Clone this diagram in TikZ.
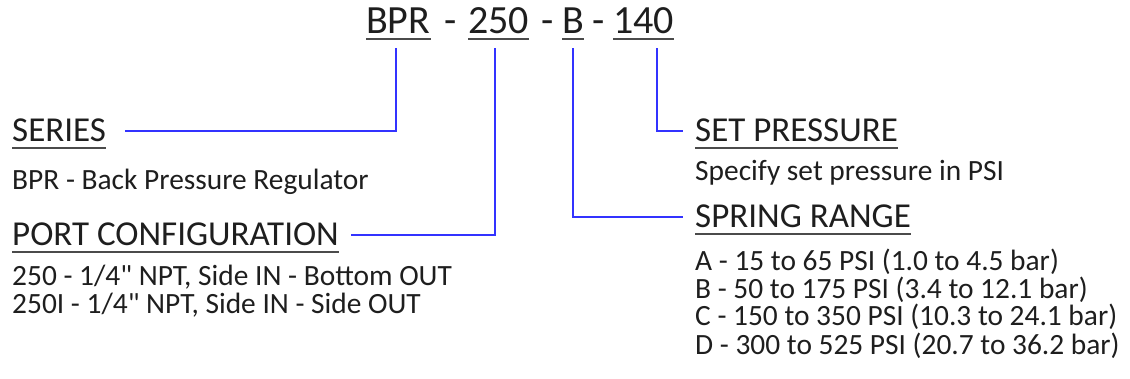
\documentclass[tikz,border=0pt]{standalone}
\usepackage{fontspec}
\setmainfont{Carlito}[Ligatures=TeXOff]
\usetikzlibrary{positioning}
\definecolor{linkblue}{RGB}{51,51,255}
\definecolor{inkgray}{RGB}{30,30,30}
\tikzset{
  txt/.style={anchor=base west,inner sep=0pt,text=inkgray},
  code/.style={txt,font=\fontsize{40}{40}\selectfont},
  head/.style={txt,font=\fontsize{35}{35}\selectfont},
  body/.style={txt,font=\fontsize{29.4}{29.4}\selectfont},
  conn/.style={draw=linkblue,line width=2pt},
  uline/.style={draw=inkgray!80,line width=2pt}
}
\begin{document}
\begin{tikzpicture}[x=1pt,y=-1pt]
  \useasboundingbox (0,0) rectangle (1130,379);
  % part number
  \node[code] (cBPR) at (366,34) {BPR};
  \node[code] (d1) at (444,34) {-};
  \node[code] (c250) at (468,34) {250};
  \node[code] (d2) at (541,34) {-};
  \node[code] (cB) at (562,34) {B};
  \node[code] (d3) at (592,34) {-};
  \node[code] (c140) at (613,34) {140};

  % headers and text, left side
  \node[head] (ser) at (12,142) {SERIES};
  \node[body] (serA) at (12,190) {BPR - Back Pressure Regulator};
  \node[head] (port) at (12,246) {PORT CONFIGURATION};
  \node[body] (portA) at (12,286) {250 - 1/4" NPT, Side IN - Bottom OUT};
  \node[body] (portB) at (12,314) {250I - 1/4" NPT, Side IN - Side OUT};

  % headers and text, right side
  \node[head] (setp) at (695,142) {SET PRESSURE};
  \node[body] (setA) at (695,181) {Specify set pressure in PSI};
  \node[head] (spr) at (695,228) {SPRING RANGE};
  \node[body] (sprA) at (695,271) {A - 15 to 65 PSI (1.0 to 4.5 bar)};
  \node[body] (sprB) at (695,299) {B - 50 to 175 PSI (3.4 to 12.1 bar)};
  \node[body] (sprC) at (695,326) {C - 150 to 350 PSI (10.3 to 24.1 bar)};
  \node[body] (sprD) at (695,354) {D - 300 to 525 PSI (20.7 to 36.2 bar)};

  % underlines
  \foreach \n in {cBPR,c250,cB,c140}
    \draw[uline,line width=2.5pt] ([yshift=-5pt]\n.base west) -- ([yshift=-5pt]\n.base east);
  \foreach \n in {ser,port,setp,spr}
    \draw[uline] ([yshift=-6pt]\n.base west) -- ([yshift=-6pt]\n.base east);

  % connectors
  \draw[conn] ([xshift=19pt]ser.east) -| ([xshift=-2pt,yshift=-14pt]cBPR.south);
  \draw[conn] ([xshift=12pt]port.east) -| ([xshift=-4pt,yshift=-14pt]c250.south);
  \draw[conn] ([yshift=-14pt]cB.south) |- ([xshift=-12pt]spr.west);
  \draw[conn] ([xshift=13pt,yshift=-14pt]c140.south) |- ([xshift=-12pt]setp.west);
\end{tikzpicture}
\end{document}
